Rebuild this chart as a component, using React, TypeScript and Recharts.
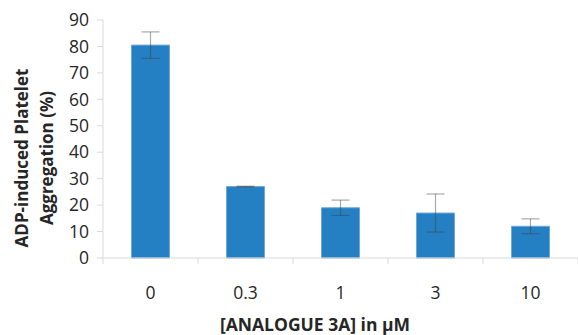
import { BarChart, Bar, XAxis, YAxis, ErrorBar, Label } from 'recharts'

const concentrations = ['0', '0.3', '1', '3', '10']
const aggregation = [80.5, 27, 19, 17, 12]
const errors = [5, 0.15, 2.9, 7.2, 2.8]
const yTicks = [0, 10, 20, 30, 40, 50, 60, 70, 80, 90]

const data = concentrations.map((c, i) => ({ conc: c, value: aggregation[i], err: errors[i] }))

const W = 578
const H = 335
const LEFT = 103
const RIGHT = 0
const BAND = (W - LEFT - RIGHT) / concentrations.length
const FONT = '"Open Sans", sans-serif'

function XTick(props: any) {
  const { x, y, payload, index } = props
  const axisY = y - 8
  return (
    <g>
      <line x1={x - BAND / 2} x2={x - BAND / 2} y1={axisY} y2={axisY + 6} stroke="#d9d9d9" />
      {index === concentrations.length - 1 && (
        <line x1={x + BAND / 2} x2={x + BAND / 2} y1={axisY} y2={axisY + 6} stroke="#d9d9d9" />
      )}
      <text x={x} y={axisY} dy={41} textAnchor="middle" fill="#262626" fontSize={17.5} fontFamily={FONT}>
        {payload.value}
      </text>
    </g>
  )
}

function YTitle() {
  const cy = 158
  return (
    <g>
      <text transform={`translate(28, ${cy}) rotate(-90)`} textAnchor="middle" fontFamily={FONT} fontWeight={700} fontSize={17} fill="#262626">
        ADP-induced Platelet
      </text>
      <text transform={`translate(53, ${cy}) rotate(-90)`} textAnchor="middle" fontFamily={FONT} fontWeight={700} fontSize={17} fill="#262626">
        Aggregation (%)
      </text>
    </g>
  )
}

function XTitle() {
  return (
    <text x={315} y={331} textAnchor="middle" fontFamily={FONT} fontWeight={700} fontSize={17.5} fill="#262626">
      [ANALOGUE 3A] in μM
    </text>
  )
}

export default function App() {
  return (
    <div style={{ position: 'absolute', left: 0, top: 0, background: '#fff' }}>
      <BarChart
        width={W}
        height={H}
        data={data}
        margin={{ top: 20, right: RIGHT, bottom: 0, left: 0 }}
        barCategoryGap="30%"
      >
        <XAxis
          dataKey="conc"
          height={77}
          tickLine={false}
          axisLine={{ stroke: '#d9d9d9' }}
          tick={<XTick />}
          interval={0}
        >
          <Label content={<XTitle />} />
        </XAxis>
        <YAxis
          width={LEFT}
          domain={[0, 90]}
          ticks={yTicks}
          tickSize={6}
          tickMargin={8}
          axisLine={{ stroke: '#d9d9d9' }}
          tickLine={{ stroke: '#d9d9d9' }}
          tick={{ fill: '#262626', fontSize: 17.5, fontFamily: FONT }}
        >
          <Label content={<YTitle />} />
        </YAxis>
        <Bar dataKey="value" fill="#2580c3" stroke="#6fa8d8" strokeWidth={1} isAnimationActive={false}>
          <ErrorBar dataKey="err" width={9} stroke="#404040" strokeOpacity={0.45} strokeWidth={1.2} />
        </Bar>
      </BarChart>
    </div>
  )
}
